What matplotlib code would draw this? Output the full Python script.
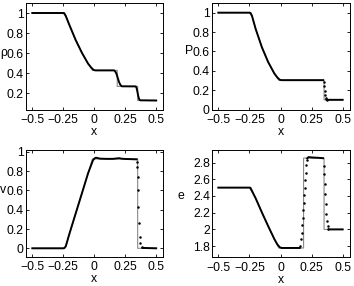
import numpy as np
import matplotlib
matplotlib.use("Agg")
import matplotlib.pyplot as plt
import matplotlib.transforms as mtransforms
from matplotlib.ticker import FuncFormatter

nan = np.nan

# exact solution (grey line)
x_exact = [-0.5, -0.2366, -0.2, -0.15, -0.1, -0.05, -0.0141, 0.1855, 0.1855, 0.3504, 0.3504, 0.5]
rho_exact = [1.0, 1.0, 0.8775, 0.7299, 0.6029, 0.4943, 0.4263, 0.4263, 0.2656, 0.2656, 0.125, 0.125]
p_exact = [1.0, 1.0, 0.8328, 0.6436, 0.4925, 0.3729, 0.3031, 0.3031, 0.3031, 0.3031, 0.1, 0.1]
v_exact = [0.0, 0.0, 0.1527, 0.3610, 0.5694, 0.7777, 0.9274, 0.9274, 0.9274, 0.9274, 0.0, 0.0]
e_exact = [2.5, 2.5, 2.3726, 2.2042, 2.0419, 1.8860, 1.7775, 1.7775, 2.853, 2.853, 2.0, 2.0]

# numerical solution, smooth parts (black line)
rho_line_x = [-0.5, -0.245, -0.23, -0.2, -0.15, -0.1, -0.05, -0.025, -0.005, 0.01, 0.16, 0.17,
              0.18, 0.19, 0.2, 0.21, 0.222, 0.335, 0.342, 0.348, 0.355, 0.362, 0.37, 0.5]
rho_line = [1.0, 1.0, 0.97, 0.878, 0.73, 0.603, 0.494, 0.455, 0.43, 0.426, 0.426, 0.415,
            0.39, 0.35, 0.31, 0.283, 0.267, 0.266, 0.25, 0.215, 0.17, 0.14, 0.127, 0.125]

p_line_x = [-0.5, -0.245, -0.23, -0.2, -0.15, -0.1, -0.05, -0.025, -0.005, 0.01, 0.343, nan, 0.376, 0.5]
p_line = [1.0, 1.0, 0.97, 0.833, 0.644, 0.492, 0.373, 0.33, 0.306, 0.303, 0.303, nan, 0.1, 0.1]

v_line_x = [-0.5, -0.245, -0.23, -0.2, -0.15, -0.1, -0.05, -0.01, 0.005, 0.015, 0.03, 0.05, 0.1,
            0.15, 0.18, 0.2, 0.22, 0.25, 0.3, 0.342, nan, 0.39, 0.5]
v_line = [0.0, 0.0, 0.02, 0.153, 0.361, 0.569, 0.778, 0.915, 0.935, 0.94, 0.935, 0.93, 0.928,
          0.928, 0.932, 0.935, 0.93, 0.927, 0.925, 0.923, nan, 0.004, 0.0]

e_line_x = [-0.5, -0.245, -0.23, -0.2, -0.15, -0.1, -0.05, -0.025, -0.005, 0.01, 0.155, nan,
            0.215, 0.225, 0.26, 0.3, 0.342, nan, 0.39, 0.5]
e_line = [2.5, 2.5, 2.46, 2.373, 2.204, 2.042, 1.886, 1.82, 1.785, 1.778, 1.778, nan,
          2.85, 2.865, 2.86, 2.857, 2.852, nan, 2.0, 2.0]

# numerical solution, cells inside the jumps (black dots)
p_dots_x = [0.347, 0.351, 0.355, 0.359, 0.363, 0.368, 0.373]
p_dots = [0.28, 0.24, 0.19, 0.15, 0.12, 0.106, 0.101]

v_dots_x = [0.345, 0.347, 0.35, 0.353, 0.356, 0.36, 0.366, 0.373, 0.382]
v_dots = [0.9, 0.84, 0.74, 0.6, 0.43, 0.26, 0.12, 0.05, 0.015]

e_dots_x = [0.16, 0.165, 0.17, 0.174, 0.178, 0.182, 0.186, 0.19, 0.194, 0.198, 0.202, 0.206, 0.21,
            0.347, 0.351, 0.355, 0.359, 0.363, 0.368, 0.374, 0.38, 0.386]
e_dots = [1.8, 1.88, 1.96, 2.05, 2.14, 2.23, 2.32, 2.41, 2.5, 2.59, 2.68, 2.77, 2.83,
          2.76, 2.66, 2.54, 2.42, 2.3, 2.19, 2.1, 2.04, 2.01]

plt.rcParams["font.family"] = ["Liberation Sans", "DejaVu Sans"]
plt.rcParams["font.size"] = 8.8

W, H = 354, 286
fig = plt.figure(figsize=(W / 100, H / 100), dpi=100)


def make_axes(left, top, width, height):
    return fig.add_axes([left / W, 1 - (top + height) / H, width / W, height / H])


ax_rho = make_axes(25.5, 3, 137.5, 106.5)
ax_p = make_axes(211.5, 3, 138, 106.5)
ax_v = make_axes(25.5, 150, 137.5, 106.5)
ax_e = make_axes(211.5, 150, 138, 107)

fmt = FuncFormatter(lambda v, pos: f"{v:g}".replace("-", "\u2212"))
grey = "#8a8a8a"

panels = [
    (ax_rho, rho_exact, rho_line_x, rho_line, None, None, "\u03c1", 0.6, -0.183,
     (0.035, 1.1), [0.2, 0.4, 0.6, 0.8, 1.0]),
    (ax_p, p_exact, p_line_x, p_line, p_dots_x, p_dots, "P", 0.6, -0.195,
     (0.0, 1.1), [0, 0.2, 0.4, 0.6, 0.8, 1.0]),
    (ax_v, v_exact, v_line_x, v_line, v_dots_x, v_dots, "v", 0.6, -0.183,
     (-0.085, 1.02), [0, 0.2, 0.4, 0.6, 0.8, 1.0]),
    (ax_e, e_exact, e_line_x, e_line, e_dots_x, e_dots, "e", 2.4, -0.25,
     (1.67, 2.95), [1.8, 2.0, 2.2, 2.4, 2.6, 2.8]),
]

for ax, ex, lx, ly, dx, dy, name, label_y, label_x, ylim, yticks in panels:
    ax.plot(x_exact, ex, color=grey, lw=0.8)
    ax.plot(lx, ly, color="black", lw=1.4)
    if dx is not None:
        ax.plot(dx, dy, linestyle="none", marker=".", color="black", markersize=1.6)
    ax.set_xlim(-0.555, 0.555)
    ax.set_ylim(*ylim)
    ax.set_xticks([-0.5, -0.25, 0, 0.25, 0.5])
    ax.set_yticks(yticks)
    ax.xaxis.set_major_formatter(fmt)
    ax.yaxis.set_major_formatter(fmt)
    ax.tick_params(direction="in", length=2, width=0.6, top=True, right=True)
    ax.tick_params(axis="x", pad=3.4)
    ax.tick_params(axis="y", pad=1.2)
    for s in ax.spines.values():
        s.set_linewidth(0.7)
    ax.set_xlabel("x", labelpad=0)
    ax.set_ylabel(name, rotation=0, ha="left", va="center")
    trans = mtransforms.blended_transform_factory(ax.transAxes, ax.transData)
    ax.yaxis.set_label_coords(label_x, label_y, transform=trans)

fig.savefig("out.png", dpi=100)
